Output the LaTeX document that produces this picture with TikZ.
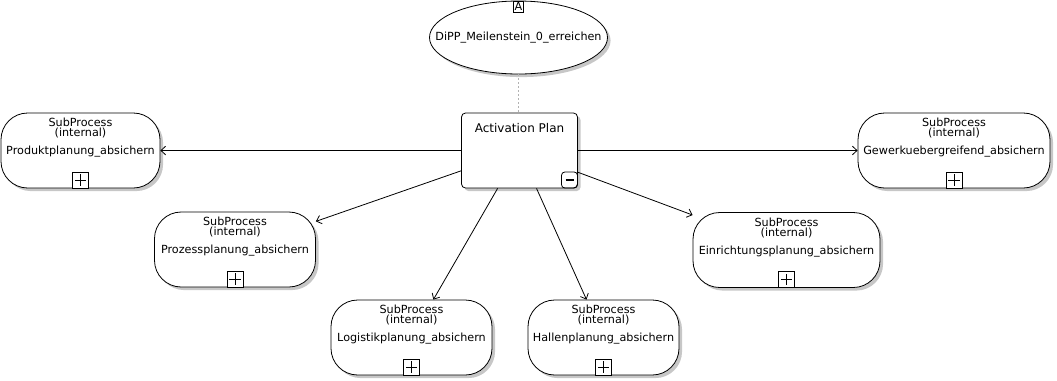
\documentclass[tikz,border=0pt]{standalone}
\usepackage{fontspec}
\setmainfont{DejaVu Sans}
\usetikzlibrary{shapes.geometric,shadows,arrows.meta}

\tikzset{
  shade/.style={drop shadow={shadow xshift=2.3pt,shadow yshift=-2.3pt,fill=black!22,opacity=1}},
  sub/.style={draw,line width=0.6pt,rounded corners=20pt,minimum height=56.25pt,
    inner sep=0pt,fill=white,shade},
  plan/.style={draw,line width=0.6pt,rounded corners=3pt,minimum width=87pt,
    minimum height=56.25pt,inner sep=0pt,fill=white,shade},
  goal/.style={draw,line width=0.6pt,ellipse,minimum width=133.5pt,minimum height=54.75pt,
    inner sep=0pt,fill=white,shade},
  hdr/.style={font=\fontsize{8.4pt}{7.4pt}\selectfont,align=center,inner sep=0pt},
  txt/.style={font=\fontsize{8.4pt}{10pt}\selectfont,inner sep=0pt},
  plus/.style={draw,line width=0.6pt,minimum size=12pt,inner sep=0pt,fill=white,
    path picture={
      \draw[line width=0.5pt] ([yshift=-1.8pt]path picture bounding box.north)
        -- ([yshift=1.8pt]path picture bounding box.south);
      \draw[line width=0.5pt] ([xshift=1.8pt]path picture bounding box.west)
        -- ([xshift=-1.8pt]path picture bounding box.east);}},
  minus/.style={draw,line width=0.6pt,rounded corners=2.5pt,minimum size=12pt,inner sep=0pt,
    path picture={
      \draw[line width=1.5pt] ([xshift=3pt]path picture bounding box.west)
        -- ([xshift=-3pt]path picture bounding box.east);}},
  flow/.style={line width=0.6pt,-{Straight Barb[length=3.5pt,width=6.5pt]}},
  link/.style={black!30,line width=0.6pt,dash pattern=on 1.5pt off 1.5pt}
}

% subprocess box: name, centre, width, label
\newcommand\subproc[4]{%
  \node[sub,minimum width=#3] (#1) at (#2) {};
  \node[hdr,anchor=north] (#1-h) at ([yshift=-4.1pt]#1.north) {SubProcess\\(internal)};
  \node[txt,anchor=base] (#1-t) at ([yshift=-3pt]#1.center) {#4};
  \node[plus,anchor=south] (#1-m) at (#1.south) {};
}

\begin{document}
\begin{tikzpicture}[x=0.75pt,y=-0.75pt]
  \useasboundingbox (0,0) rectangle (1057,380);

  % milestone and plan
  \node[goal] (ziel) at (518.5,37.5) {};
  \node[txt] (ziel-t) at (ziel.center) {DiPP\_Meilenstein\_0\_erreichen};
  \node[draw,line width=0.6pt,fill=white,inner sep=0.9pt,font=\fontsize{8.4pt}{8.4pt}\selectfont]
    (ziel-m) at (518.5,6.8) {A};

  \node[plan] (ap) at (519.5,150.5) {};
  \node[font=\fontsize{9pt}{10pt}\selectfont,inner sep=0pt,anchor=base]
    (ap-t) at ([yshift=-15pt]ap.north) {Activation Plan};
  \node[minus,anchor=south east] (ap-m) at (ap.south east) {};

  \draw[link] (ziel) -- (ziel |- ap.north);

  % subprocesses
  \subproc{prod}{80.5,150.5}{119.25pt}{Produktplanung\_absichern}
  \subproc{proz}{235,249.5}{120.75pt}{Prozessplanung\_absichern}
  \subproc{logi}{411.5,337.5}{120.75pt}{Logistikplanung\_absichern}
  \subproc{hall}{603.5,337.5}{113.25pt}{Hallenplanung\_absichern}
  \subproc{einr}{786.5,250}{140.25pt}{Einrichtungsplanung\_absichern}
  \subproc{gewe}{954,150.5}{144pt}{Gewerkuebergreifend\_absichern}

  \draw[flow] (ap) -- (prod);
  \draw[flow] (ap) -- (proz);
  \draw[flow] (ap) -- (logi);
  \draw[flow] (ap) -- (hall);
  \draw[flow] (ap) -- (einr);
  \draw[flow] (ap) -- (gewe);
\end{tikzpicture}
\end{document}
